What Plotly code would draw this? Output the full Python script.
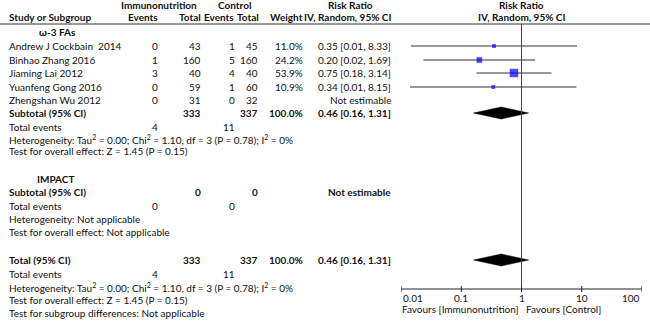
import math
import plotly.graph_objects as go

# ---------------- data ----------------
studies = ["Andrew J Cockbain  2014", "Binhao Zhang 2016", "Jiaming Lai 2012",
           "Yuanfeng Gong 2016", "Zhengshan Wu 2012"]
imm_events = [0, 1, 3, 0, 0]
imm_total = [43, 160, 40, 59, 31]
ctl_events = [1, 5, 4, 1, 0]
ctl_total = [45, 160, 40, 60, 32]
weights = [11.0, 24.2, 53.9, 10.9, None]
rr = [0.35, 0.20, 0.75, 0.34, None]
rr_lo = [0.0146, 0.0236, 0.179, 0.0141, None]
rr_hi = [8.33, 1.69, 3.14, 8.15, None]

pooled_rr, pooled_lo, pooled_hi = 0.46, 0.16, 1.31
sub_imm_total, sub_ctl_total = 333, 337
sub_imm_events, sub_ctl_events = 4, 11
het_text = "Heterogeneity: Tau<sup>2</sup> = 0.00; Chi<sup>2</sup> = 1.10, df = 3 (P = 0.78); I<sup>2</sup> = 0%"
overall_text = "Test for overall effect: Z = 1.45 (P = 0.15)"

tick_vals = [0.01, 0.1, 1, 10, 100]
tick_text = ["0.01", "0.1", "1", "10", "100"]

# ---------------- layout helpers ----------------
W, H = 650, 323
FONT = "Lato"
FS = 10

# row positions (pixels from top)
Y_H1, Y_H2, Y_LINE = 5, 17, 24
Y_G1 = 32
Y_STUDY = [46, 60, 73, 87, 100]
Y_SUB1, Y_TE1, Y_HET1, Y_OV1 = 113, 127, 139, 151
Y_G2, Y_SUB2, Y_TE2, Y_HET2, Y_OV2 = 179, 192, 206, 219, 232
Y_TOT, Y_TE3, Y_HET3, Y_OV3, Y_SGD = 260, 274, 287, 300, 313
Y_AXIS, Y_TICKLAB, Y_FAV = 289, 298, 309

# column x positions (pixels)
X_NAME = 7
X_IMM_EV, X_IMM_TOT = 160, 203
X_CTL_EV, X_CTL_TOT = 237, 260
X_W = 305
X_RR = 393

annots = []


def txt(x, y, s, anchor="left", bold=False, size=FS, xref="paper", xshift=0):
    if bold:
        s = "<b>" + s + "</b>"
    if xref == "paper":
        xv = x / W
    else:
        xv = math.log10(x)  # log axis: annotations use log10 coordinates
    annots.append(dict(
        x=xv, y=y, xref=xref, yref="y", xshift=xshift,
        text=s, showarrow=False, xanchor=anchor, yanchor="middle",
        font=dict(family=FONT, size=size, color="#111"),
    ))


# headers
txt(159, Y_H1, "Immunonutrition", "center", True)
txt(234, Y_H1, "Control", "center", True)
txt(350, Y_H1, "Risk Ratio", "center", True)
txt(1, Y_H1, "Risk Ratio", "center", True, xref="x")
txt(X_NAME, Y_H2, "Study or Subgroup", "left", True)
txt(X_IMM_EV, Y_H2, "Events", "right", True)
txt(X_IMM_TOT, Y_H2, "Total", "right", True)
txt(X_CTL_EV - 1, Y_H2, "Events", "right", True)
txt(X_CTL_TOT + 1, Y_H2, "Total", "right", True)
txt(X_W, Y_H2, "Weight", "right", True)
txt(X_RR, Y_H2, "IV, Random, 95% CI", "right", True)
txt(1, Y_H2, "IV, Random, 95% CI", "center", True, xref="x")

# subgroup 1
txt(37, Y_G1, "\u03c9-3 FAs", "left", True)
for i, name in enumerate(studies):
    y = Y_STUDY[i]
    txt(X_NAME, y, name)
    txt(X_IMM_EV, y, str(imm_events[i]), "right")
    txt(X_IMM_TOT, y, str(imm_total[i]), "right")
    txt(X_CTL_EV, y, str(ctl_events[i]), "right")
    txt(X_CTL_TOT, y, str(ctl_total[i]), "right")
    if weights[i] is not None:
        txt(X_W, y, f"{weights[i]:.1f}%", "right")
        txt(X_RR, y, f"{rr[i]:.2f} [{rr_lo[i]:.2f}, {rr_hi[i]:.2f}]", "right")
    else:
        txt(X_RR, y, "Not estimable", "right")

pooled_label = f"{pooled_rr:.2f} [{pooled_lo:.2f}, {pooled_hi:.2f}]"
txt(X_NAME, Y_SUB1, "Subtotal (95% CI)", "left", True)
txt(X_IMM_TOT, Y_SUB1, str(sub_imm_total), "right", True)
txt(X_CTL_TOT, Y_SUB1, str(sub_ctl_total), "right", True)
txt(X_W, Y_SUB1, "100.0%", "right", True)
txt(X_RR, Y_SUB1, pooled_label, "right", True)
txt(X_NAME, Y_TE1, "Total events")
txt(X_IMM_EV, Y_TE1, str(sub_imm_events), "right")
txt(X_CTL_EV, Y_TE1, str(sub_ctl_events), "right")
txt(X_NAME, Y_HET1, het_text)
txt(X_NAME, Y_OV1, overall_text)

# subgroup 2
txt(35, Y_G2, "IMPACT", "left", True)
txt(X_NAME, Y_SUB2, "Subtotal (95% CI)", "left", True)
txt(X_IMM_TOT, Y_SUB2, "0", "right", True)
txt(X_CTL_TOT, Y_SUB2, "0", "right", True)
txt(X_RR, Y_SUB2, "Not estimable", "right", True)
txt(X_NAME, Y_TE2, "Total events")
txt(X_IMM_EV, Y_TE2, "0", "right")
txt(X_CTL_EV, Y_TE2, "0", "right")
txt(X_NAME, Y_HET2, "Heterogeneity: Not applicable")
txt(X_NAME, Y_OV2, "Test for overall effect: Not applicable")

# total
txt(X_NAME, Y_TOT, "Total (95% CI)", "left", True)
txt(X_IMM_TOT, Y_TOT, str(sub_imm_total), "right", True)
txt(X_CTL_TOT, Y_TOT, str(sub_ctl_total), "right", True)
txt(X_W, Y_TOT, "100.0%", "right", True)
txt(X_RR, Y_TOT, pooled_label, "right", True)
txt(X_NAME, Y_TE3, "Total events")
txt(X_IMM_EV, Y_TE3, str(sub_imm_events), "right")
txt(X_CTL_EV, Y_TE3, str(sub_ctl_events), "right")
txt(X_NAME, Y_HET3, het_text)
txt(X_NAME, Y_OV3, overall_text)
txt(X_NAME, Y_SGD, "Test for subgroup differences: Not applicable")

# axis tick labels & favours
for i, (v, t) in enumerate(zip(tick_vals, tick_text)):
    anchor = "left" if i == 0 else ("right" if i == len(tick_vals) - 1 else "center")
    txt(v, Y_TICKLAB, t, anchor, xref="x")
txt(1, Y_FAV, "Favours [Immunonutrition]", "right", xref="x", xshift=-1)
txt(1, Y_FAV, "Favours [Control]", "left", xref="x", xshift=2)

fig = go.Figure()

# CI lines
ci_x, ci_y = [], []
for i in range(len(studies)):
    if rr[i] is None:
        continue
    ci_x += [rr_lo[i], rr_hi[i], None]
    ci_y += [Y_STUDY[i], Y_STUDY[i], None]
fig.add_trace(go.Scatter(x=ci_x, y=ci_y, mode="lines",
                         line=dict(color="#333", width=1.2), hoverinfo="skip"))

# squares
sq_x = [rr[i] for i in range(len(studies)) if rr[i] is not None]
sq_y = [Y_STUDY[i] for i in range(len(studies)) if rr[i] is not None]
sq_s = [1.15 * (weights[i] ** 0.5) for i in range(len(studies)) if rr[i] is not None]
fig.add_trace(go.Scatter(x=sq_x, y=sq_y, mode="markers",
                         marker=dict(symbol="square", size=sq_s, color="#0000ff",
                                     line=dict(width=0)), hoverinfo="skip"))

# diamonds
for yd in (Y_SUB1, Y_TOT):
    fig.add_trace(go.Scatter(
        x=[pooled_lo, pooled_rr, pooled_hi, pooled_rr, pooled_lo],
        y=[yd, yd - 6, yd, yd + 6, yd], mode="lines", fill="toself",
        fillcolor="black", line=dict(color="black", width=0.5), hoverinfo="skip"))

# null line
fig.add_trace(go.Scatter(x=[1, 1], y=[Y_LINE, Y_AXIS], mode="lines",
                         line=dict(color="#444", width=1), hoverinfo="skip"))
# axis line
fig.add_trace(go.Scatter(x=[tick_vals[0], tick_vals[-1]], y=[Y_AXIS, Y_AXIS], mode="lines",
                         line=dict(color="#222", width=1), hoverinfo="skip"))
# ticks
tx, ty = [], []
for v in tick_vals:
    tx += [v, v, None]
    ty += [Y_AXIS - 3, Y_AXIS + 3, None]
fig.add_trace(go.Scatter(x=tx, y=ty, mode="lines",
                         line=dict(color="#222", width=1), hoverinfo="skip"))

fig.update_layout(
    width=W, height=H, margin=dict(l=0, r=0, t=0, b=0),
    paper_bgcolor="white", plot_bgcolor="white", showlegend=False,
    xaxis=dict(type="log", range=[-2, 2], domain=[401 / W, 642 / W], visible=False),
    yaxis=dict(range=[H, 0], domain=[0, 1], visible=False),
    annotations=annots,
    shapes=[dict(type="line", xref="paper", yref="y", x0=0, x1=1, y0=Y_LINE, y1=Y_LINE,
                 line=dict(color="#333", width=1.2))],
)

fig.write_html("out.html", config={"displayModeBar": False},
               post_script="document.body.style.margin='0';")
